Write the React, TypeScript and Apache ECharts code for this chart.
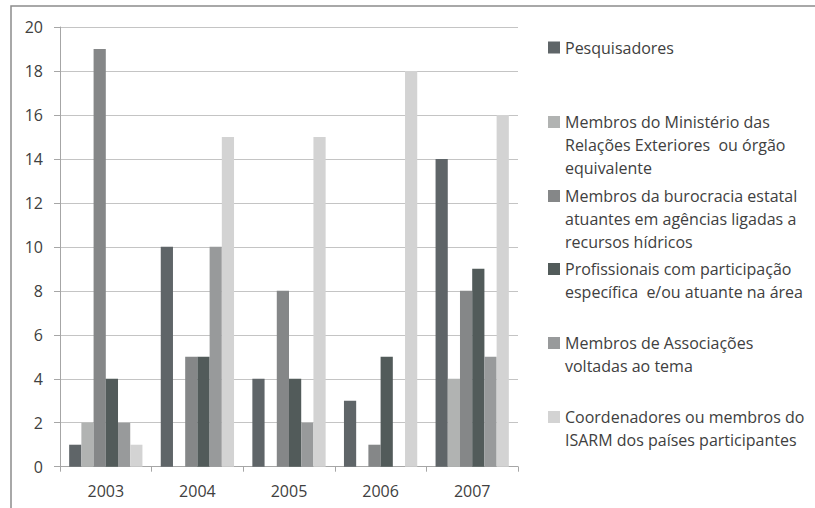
import React, { useEffect, useRef } from "react";
import * as echarts from "echarts";

const categories = ["2003", "2004", "2005", "2006", "2007"];
const seriesNames = [
  "Pesquisadores",
  "Membros do Ministério das\nRelações Exteriores  ou órgão\nequivalente",
  "Membros da burocracia estatal\natuantes em agências ligadas a\nrecursos hídricos",
  "Profissionais com participação\nespecífica  e/ou atuante na área",
  "Membros de Associações\nvoltadas ao tema",
  "Coordenadores ou membros do\nISARM dos países participantes",
];
const pesquisadores = [1, 10, 4, 3, 14];
const ministerio = [2, 0, 0, 0, 4];
const burocracia = [19, 5, 8, 1, 8];
const profissionais = [4, 5, 4, 5, 9];
const associacoes = [2, 10, 2, 0, 5];
const coordenadores = [1, 15, 15, 18, 16];
const seriesValues = [pesquisadores, ministerio, burocracia, profissionais, associacoes, coordenadores];
const seriesColors = ["#5f6568", "#b1b3b2", "#858788", "#525b5a", "#989a9b", "#d3d3d3"];
const yTicks = { min: 0, max: 20, interval: 2 };

const FONT = "'Open Sans', sans-serif";
const LINE_H = 23;
const legendIconTops = [41.5, 116, 190, 263, 337, 411];

export default function App() {
  const ref = useRef<HTMLDivElement>(null);
  useEffect(() => {
    if (!ref.current) return;
    const chart = echarts.init(ref.current, undefined, { renderer: "svg" });
    const legends = seriesNames.map((name, i) => {
      const n = name.split("\n").length;
      const pad = (n - 1) * LINE_H;
      return {
        data: [name],
        orient: "vertical",
        left: 548,
        top: legendIconTops[i] - 5.5 - pad,
        padding: 0,
        itemWidth: 12,
        itemHeight: 12,
        itemGap: 4,
        icon: "rect",
        selectedMode: false,
        formatter: (nm: string) => "\n".repeat(n - 1) + nm,
        textStyle: {
          fontFamily: FONT,
          fontSize: 16,
          color: "#404040",
          lineHeight: LINE_H,
        },
      };
    });
    chart.setOption({
      animation: false,
      backgroundColor: "#ffffff",
      graphic: [
        {
          type: "rect",
          shape: { x: 11, y: 6, width: 830, height: 540 },
          style: { fill: "none", stroke: "#8c8c8c", lineWidth: 1.5 },
          silent: true,
        },
      ],
      legend: legends,
      grid: { left: 60, top: 27, right: 297, bottom: 41.3 },
      xAxis: {
        type: "category",
        data: categories,
        axisLine: { lineStyle: { color: "#a6a6a6", width: 1 } },
        axisTick: { show: true, length: 5, lineStyle: { color: "#a6a6a6" } },
        axisLabel: { fontFamily: FONT, fontSize: 16, color: "#404040", margin: 16 },
      },
      yAxis: {
        type: "value",
        min: yTicks.min,
        max: yTicks.max,
        interval: yTicks.interval,
        axisLine: { show: true, lineStyle: { color: "#a6a6a6", width: 1 } },
        axisTick: { show: true, length: 6, lineStyle: { color: "#a6a6a6" } },
        splitLine: { lineStyle: { color: "#c4c4c4", width: 1 } },
        axisLabel: { fontFamily: FONT, fontSize: 16, color: "#404040", margin: 17 },
      },
      series: seriesNames.map((name, i) => ({
        type: "bar",
        name,
        data: seriesValues[i],
        barGap: "0%",
        barCategoryGap: "20%",
        itemStyle: { color: seriesColors[i] },
      })),
    });
    return () => chart.dispose();
  }, []);
  return (
    <div
      ref={ref}
      style={{ position: "fixed", left: 0, top: 0, width: 815, height: 508 }}
    />
  );
}
